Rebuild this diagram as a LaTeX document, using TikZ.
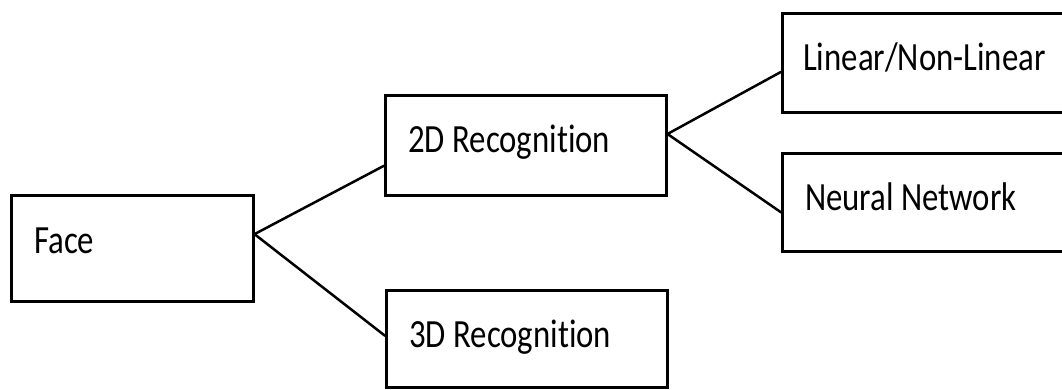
\documentclass[tikz,border=0pt]{standalone}
\usepackage{fontspec}
\usetikzlibrary{calc}
\newfontfamily\boxfont[FakeStretch=0.82,Ligatures=NoCommon]{Carlito}
\begin{document}
\begin{tikzpicture}[x=1pt,y=-1pt,
  box/.style={draw=black,line width=2.5pt,fill=white,rectangle,inner sep=0pt,anchor=north west},
  lbl/.style={anchor=base west,inner sep=0pt,font=\boxfont\fontsize{40}{40}\selectfont},
  conn/.style={draw=black,line width=2.5pt,line cap=round}]
\useasboundingbox (0,0) rectangle (1062,389);
\clip (0,0) rectangle (1062,389);
\fill[white] (0,0) rectangle (1062,389);
% boxes
\node[box,minimum width=242pt,minimum height=106pt] (face) at (10,194) {};
\node[box,minimum width=281pt,minimum height=100pt] (twod) at (384,94) {};
\node[box,minimum width=281pt,minimum height=97pt] (threed) at (385,289) {};
\node[box,minimum width=300pt,minimum height=99pt] (lin) at (781,12) {};
\node[box,minimum width=300pt,minimum height=98pt] (nn) at (781,152) {};
% labels
\node[lbl] (faceT) at ([shift={(24,59)}]face.north west) {Face};
\node[lbl] (twodT) at ([shift={(24,58)}]twod.north west) {2D Recognition};
\node[lbl] (threedT) at ([shift={(24,58)}]threed.north west) {3D Recognition};
\node[lbl] (linT) at ([shift={(22,58)}]lin.north west) {Linear/Non-Linear};
\node[lbl] (nnT) at ([shift={(24,58)}]nn.north west) {Neural Network};
% connection points
\coordinate (fa) at ($(face.north east)!0.37!(face.south east)$);
\coordinate (ta) at ($(twod.north west)!0.70!(twod.south west)$);
\coordinate (tha) at ($(threed.north west)!0.47!(threed.south west)$);
\coordinate (tb) at ($(twod.north east)!0.39!(twod.south east)$);
\coordinate (la) at ($(lin.north west)!0.59!(lin.south west)$);
\coordinate (na) at ($(nn.north west)!0.60!(nn.south west)$);
\draw[conn] (fa) -- (ta);
\draw[conn] (fa) -- (tha);
\draw[conn] (tb) -- (la);
\draw[conn] (tb) -- (na);
\end{tikzpicture}
\end{document}
